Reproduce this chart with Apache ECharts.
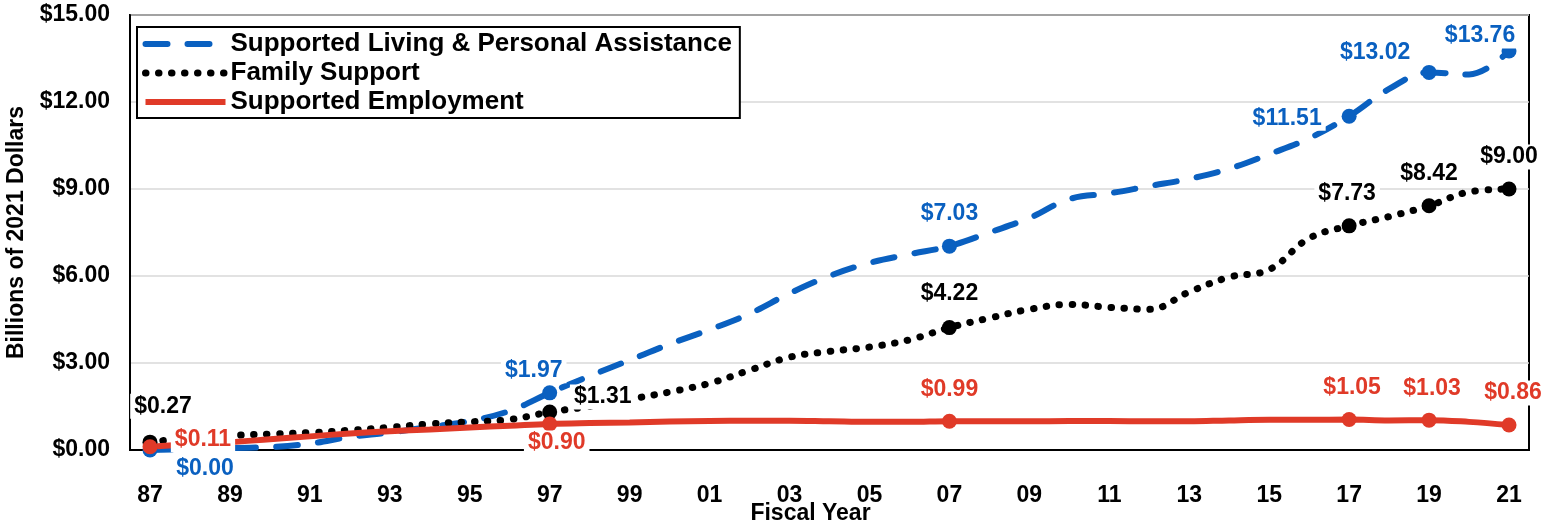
<!DOCTYPE html>
<html>
<head>
<meta charset="utf-8">
<title>Fiscal Year spending</title>
<script src="https://cdn.jsdelivr.net/npm/echarts@6/dist/echarts.min.js"></script>
<style>
  html, body { margin: 0; padding: 0; background: #fff; }
  #chart { width: 1556px; height: 527px; }
</style>
</head>
<body>
<div id="chart"></div>
<script>
// fiscal years 1987 - 2021
const years = ['87', '88', '89', '90', '91', '92', '93', '94', '95', '96', '97', '98', '99', '00', '01', '02', '03',
  '04', '05', '06', '07', '08', '09', '10', '11', '12', '13', '14', '15', '16', '17', '18', '19', '20', '21']

// billions of 2021 dollars
const livingVals = [0.00, 0.03, 0.07, 0.10, 0.22, 0.45, 0.60, 0.80, 1.00, 1.35, 1.97, 2.55, 3.10, 3.65, 4.15, 4.70, 5.40,
  6.00, 6.45, 6.75, 7.03, 7.50, 8.00, 8.65, 8.85, 9.10, 9.35, 9.70, 10.20, 10.75, 11.51, 12.45, 13.02, 12.95, 13.76]
const familyVals = [0.27, 0.42, 0.50, 0.55, 0.60, 0.68, 0.78, 0.90, 0.97, 1.05, 1.31, 1.50, 1.75, 2.00, 2.30, 2.75, 3.20,
  3.40, 3.55, 3.80, 4.22, 4.55, 4.85, 5.02, 4.92, 4.85, 5.45, 5.96, 6.22, 7.30, 7.73, 8.05, 8.42, 8.90, 9.00]
const employVals = [0.11, 0.20, 0.27, 0.37, 0.47, 0.57, 0.65, 0.71, 0.78, 0.84, 0.90, 0.93, 0.95, 0.98, 1.00, 1.01, 1.01,
  0.99, 0.97, 0.97, 0.99, 0.99, 0.99, 1.00, 1.00, 0.99, 0.99, 1.02, 1.04, 1.04, 1.05, 1.02, 1.03, 0.97, 0.86]

// years that get a marker and a value label
const markedYears = ['87', '97', '07', '17', '19', '21']

const yTicks = [0, 3, 6, 9, 12, 15]

const seriesNames = ['Supported Living & Personal Assistance', 'Family Support', 'Supported Employment']

const blue = '#0a60c0'
const red = '#e03a28'

const lineStyles = [
  { color: blue, width: 6, type: [22, 20], cap: 'round' },
  { color: '#000', width: 7, type: [0.5, 12.5], cap: 'round' },
  { color: red, width: 6, type: 'solid' }
]

// where each value label sits, relative to its marker
const labelOffsets = [
  { '87': [55, 19], '97': [-16, -22], '07': [0, -32], '17': [-62, 2], '19': [-54, -20], '21': [-29, -15] },
  { '87': [13, -36], '97': [53, -15], '07': [0, -34], '17': [-2, -32], '19': [0, -32], '21': [0, -32] },
  { '87': [53, -7], '97': [7, 19], '07': [0, -32], '17': [3, -32], '19': [3, -31], '21': [4, -32] }
]

const font = 'Liberation Sans, Arial, sans-serif'

function lineSeries (vals, idx) {
  return {
    name: seriesNames[idx],
    type: 'line',
    z: 2 + idx,
    smooth: 0.4,
    symbol: 'none',
    data: vals,
    lineStyle: lineStyles[idx],
    itemStyle: { color: lineStyles[idx].color }
  }
}

function markerSeries (vals, idx) {
  const color = lineStyles[idx].color
  return {
    name: seriesNames[idx] + ' points',
    type: 'scatter',
    z: 10 + idx,
    symbolSize: 15,
    itemStyle: { color: color, opacity: 1 },
    data: markedYears.map(y => {
      const i = years.indexOf(y)
      return {
        value: [y, vals[i]],
        label: { offset: labelOffsets[idx][y] }
      }
    }),
    label: {
      show: true,
      position: 'inside',
      color: color,
      fontFamily: font,
      fontWeight: 'bold',
      fontSize: 23,
      backgroundColor: '#fff',
      padding: [1, 4],
      formatter: p => '$' + p.value[1].toFixed(2)
    },
    emphasis: { disabled: true }
  }
}

const chart = echarts.init(document.getElementById('chart'))

chart.setOption({
  animation: false,
  grid: {
    left: 130,
    right: 27,
    top: 15,
    bottom: 77,
    containLabel: false,
    outerBoundsMode: 'none',
    show: true,
    borderColor: '#000',
    borderWidth: 2
  },
  legend: {
    data: seriesNames.map((n, i) => ({ name: n, lineStyle: lineStyles[i] })),
    orient: 'vertical',
    left: 137,
    top: 27,
    padding: [4, 8, 3, 5],
    itemGap: 3,
    itemWidth: 80,
    itemHeight: 14,
    itemStyle: { opacity: 0 },
    borderColor: '#000',
    borderWidth: 2,
    backgroundColor: '#fff',
    textStyle: {
      fontFamily: font,
      fontWeight: 'bold',
      fontSize: 26,
      color: '#000'
    }
  },
  xAxis: {
    type: 'category',
    data: years,
    boundaryGap: true,
    name: 'Fiscal Year',
    nameLocation: 'middle',
    nameGap: 52,
    nameMoveOverlap: false,
    nameTextStyle: { fontFamily: font, fontWeight: 'bold', fontSize: 23, color: '#000', padding: [0, 38, 0, 0] },
    axisLine: { lineStyle: { color: '#000', width: 2 } },
    axisTick: { show: false },
    axisLabel: {
      interval: 1,
      margin: 34,
      fontFamily: font,
      fontWeight: 'bold',
      fontSize: 23,
      color: '#000'
    }
  },
  yAxis: {
    type: 'value',
    min: yTicks[0],
    max: yTicks[yTicks.length - 1],
    interval: yTicks[1] - yTicks[0],
    name: 'Billions of 2021 Dollars',
    nameLocation: 'middle',
    nameGap: 102,
    nameMoveOverlap: false,
    nameTextStyle: { fontFamily: font, fontWeight: 'bold', fontSize: 23, color: '#000' },
    axisLine: { show: true, lineStyle: { color: '#000', width: 2 } },
    axisTick: { show: false },
    splitLine: { lineStyle: { color: '#d9d9d9', width: 1.5 } },
    axisLabel: {
      margin: 20,
      fontFamily: font,
      fontWeight: 'bold',
      fontSize: 23,
      color: '#000',
      formatter: v => '$' + v.toFixed(2)
    }
  },
  series: [
    lineSeries(livingVals, 0),
    lineSeries(familyVals, 1),
    lineSeries(employVals, 2),
    markerSeries(livingVals, 0),
    markerSeries(familyVals, 1),
    markerSeries(employVals, 2)
  ]
})
</script>
</body>
</html>
